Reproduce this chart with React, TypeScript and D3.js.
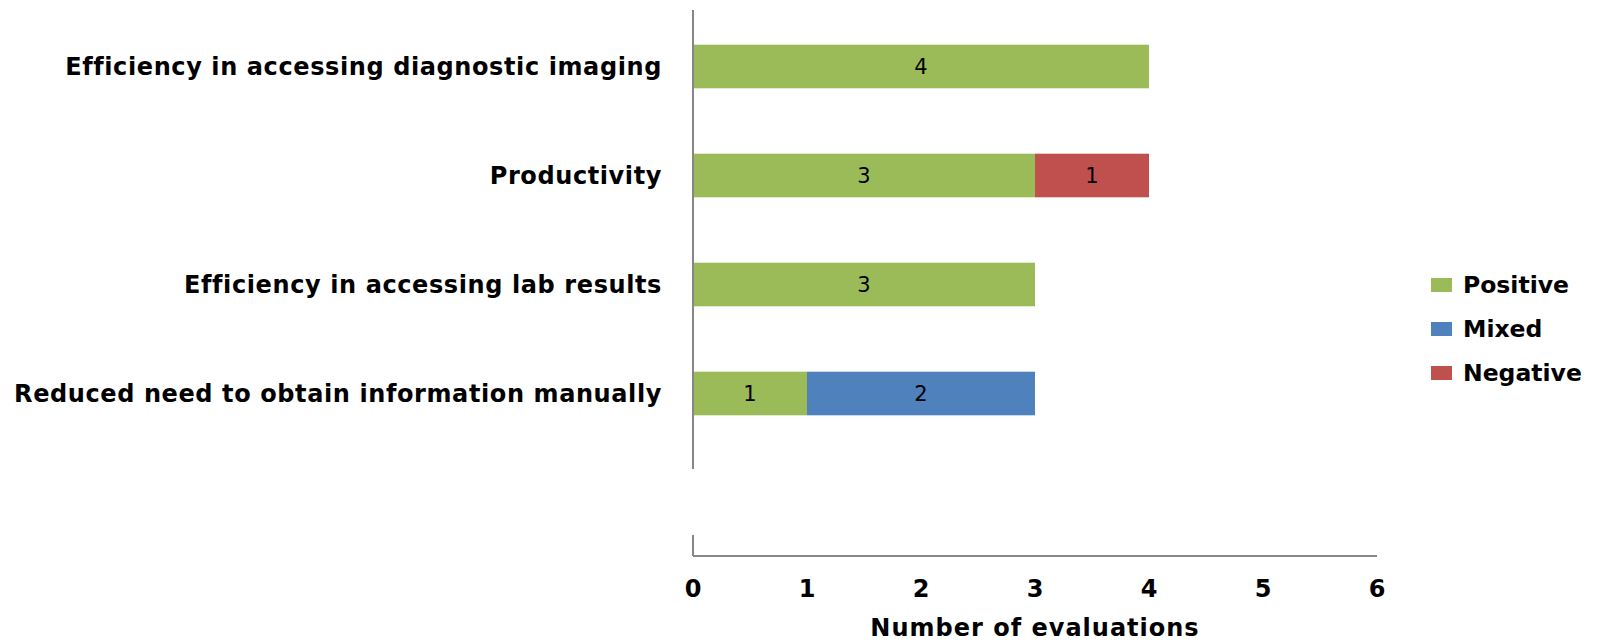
import React from "react";
import * as d3 from "d3";

const categories = [
  "Efficiency in accessing diagnostic imaging",
  "Productivity",
  "Efficiency in accessing lab results",
  "Reduced need to obtain information manually",
];
const seriesNames = ["Positive", "Mixed", "Negative"];
const positive = [4, 3, 3, 1];
const mixed = [0, 0, 0, 2];
const negative = [0, 1, 0, 0];
const xTicks = [0, 1, 2, 3, 4, 5, 6];
const colors = ["#9BBB59", "#4F81BD", "#C0504D"];

const W = 1598;
const H = 643;
const FONT = "'DejaVu Sans', Verdana, sans-serif";

export default function App() {
  const x = d3.scaleLinear().domain([0, 6]).range([693, 1377]);
  const y = d3.scaleBand<string>().domain(categories).range([12, 448]).paddingInner(0.6).paddingOuter(0.3);

  const rows = categories.map((c, i) => ({ cat: c, Positive: positive[i], Mixed: mixed[i], Negative: negative[i] }));
  const stack = d3.stack<any>().keys(seriesNames)(rows);

  return (
    <svg width={W} height={H} style={{ position: "absolute", left: 0, top: 0, background: "#fff" }}>
      {stack.map((layer, si) =>
        layer.map((d, i) => {
          const v = d[1] - d[0];
          if (v <= 0) return null;
          const x0 = x(d[0]);
          const x1 = x(d[1]);
          const yy = y(categories[i])!;
          return (
            <g key={`${si}-${i}`}>
              <rect x={x0} y={yy} width={x1 - x0} height={y.bandwidth()} fill={colors[si]} />
              <text
                x={(x0 + x1) / 2}
                y={yy + y.bandwidth() / 2}
                textAnchor="middle"
                dominantBaseline="central"
                fontFamily={FONT}
                fontSize={21}
                fill="#000"
              >
                {v}
              </text>
            </g>
          );
        })
      )}
      {/* vertical axis */}
      <line x1={693} x2={693} y1={10} y2={469} stroke="#868686" strokeWidth={2} />
      {categories.map((c) => (
        <text
          key={c}
          x={662}
          y={y(c)! + y.bandwidth() / 2}
          textAnchor="end"
          dominantBaseline="central"
          fontFamily={FONT}
          fontWeight="bold"
          fontSize={24}
          letterSpacing={0.6}
          fill="#000"
        >
          {c}
        </text>
      ))}
      {/* horizontal axis */}
      <line x1={x(0)} x2={x(6)} y1={556} y2={556} stroke="#868686" strokeWidth={2} />
      <line x1={x(0)} x2={x(0)} y1={535} y2={556} stroke="#868686" strokeWidth={2} />
      {xTicks.map((t) => (
        <text
          key={t}
          x={x(t)}
          y={589}
          textAnchor="middle"
          dominantBaseline="central"
          fontFamily={FONT}
          fontWeight="bold"
          fontSize={24}
          fill="#000"
        >
          {t}
        </text>
      ))}
      <text
        x={(x(0) + x(6)) / 2}
        y={628}
        textAnchor="middle"
        dominantBaseline="central"
        fontFamily={FONT}
        fontWeight="bold"
        fontSize={24}
        letterSpacing={1}
        fill="#000"
      >
        Number of evaluations
      </text>
      {seriesNames.map((s, i) => (
        <g key={s} transform={`translate(1431, ${285 + i * 44})`}>
          <rect x={0} y={-7} width={21} height={14} fill={colors[i]} />
          <text x={32} y={0} dominantBaseline="central" fontFamily={FONT} fontWeight="bold" fontSize={23.5} fill="#000">
            {s}
          </text>
        </g>
      ))}
    </svg>
  );
}
